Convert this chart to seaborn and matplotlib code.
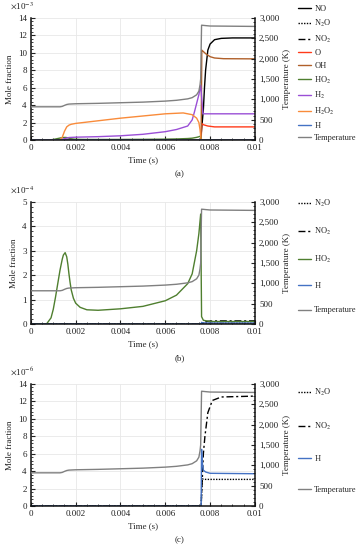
import numpy as np
import pandas as pd
import matplotlib.pyplot as plt
import seaborn as sns
from matplotlib.lines import Line2D
from matplotlib.ticker import MultipleLocator, AutoMinorLocator, FuncFormatter

sns.set_theme(style="white")
plt.rcParams['font.family'] = ['Liberation Serif', 'DejaVu Serif']
plt.rcParams['mathtext.fontset'] = 'stix'

# --- data (time in s, mole fractions absolute, T in K) ---
temp_t = [0, 0.0013, 0.0014, 0.0015, 0.0016, 0.0017, 0.002, 0.003, 0.004, 0.005,
          0.006, 0.0065, 0.007, 0.0072, 0.0074, 0.0075, 0.00755, 0.00758, 0.0076,
          0.00762, 0.0078, 0.008, 0.009, 0.01]
temp_K = [815, 815, 825, 850, 872, 882, 890, 900, 915, 930,
          955, 975, 1010, 1040, 1110, 1200, 1350, 1500, 2200,
          2820, 2810, 2800, 2795, 2790]

no_t = [0, 0.00758, 0.0077, 0.00775, 0.0078, 0.0079, 0.008, 0.0082, 0.0085, 0.009, 0.01]
no_x = np.array([0, 0, 3.5, 6.0, 8.0, 10.3, 11.0, 11.5, 11.65, 11.7, 11.7]) * 1e-3

oh_t = [0, 0.0076, 0.00763, 0.0078, 0.008, 0.0082, 0.0086, 0.01]
oh_x = np.array([0, 0, 10.3, 9.9, 9.55, 9.4, 9.32, 9.3]) * 1e-3

o_t = [0, 0.0076, 0.00763, 0.0077, 0.0079, 0.0082, 0.01]
o_x = np.array([0, 0, 1.9, 1.75, 1.6, 1.5, 1.5]) * 1e-3

h2o2_t = [0, 0.0013, 0.0014, 0.0015, 0.0016, 0.0017, 0.0018, 0.002, 0.003, 0.004,
          0.005, 0.006, 0.0068, 0.0072, 0.0074, 0.0075, 0.00755, 0.0076, 0.01]
h2o2_x = np.array([0, 0, 0.3, 1.0, 1.5, 1.7, 1.8, 1.9, 2.2, 2.5,
                   2.75, 3.0, 3.1, 2.9, 2.5, 2.0, 1.2, 0, 0]) * 1e-3

h2_t = [0, 0.0013, 0.0015, 0.0017, 0.002, 0.003, 0.004, 0.005, 0.006, 0.0065,
        0.007, 0.0072, 0.0073, 0.0074, 0.0075, 0.00758, 0.00768, 0.008, 0.01]
h2_x = np.array([0, 0, 0.15, 0.28, 0.32, 0.38, 0.48, 0.65, 0.95, 1.2,
                 1.6, 2.3, 3.2, 4.2, 5.2, 6.3, 3.0, 3.0, 3.0]) * 1e-3

ho2_t = [0, 0.0007, 0.0009, 0.001, 0.0011, 0.0012, 0.0013, 0.0014, 0.00145, 0.00153,
         0.0016, 0.00165, 0.0017, 0.00175, 0.0018, 0.0019, 0.002, 0.0022, 0.0025, 0.003,
         0.004, 0.005, 0.006, 0.0065, 0.007, 0.0072, 0.0074, 0.0075, 0.00758, 0.00762,
         0.0077, 0.008, 0.01]
ho2_x = np.array([0, 0, 0.25, 0.6, 1.1, 1.65, 2.2, 2.65, 2.82, 2.92,
                  2.75, 2.45, 2.05, 1.7, 1.4, 1.05, 0.85, 0.68, 0.58, 0.56,
                  0.62, 0.72, 0.95, 1.18, 1.65, 2.05, 3.0, 3.7, 4.5, 0.3,
                  0.15, 0.1, 0.1]) * 1e-4

h_t = [0, 0.0076, 0.00762, 0.00765, 0.0077, 0.0078, 0.008, 0.01]
h_x = np.array([0, 0, 6.5, 5.0, 4.1, 3.9, 3.75, 3.7]) * 1e-6

n2o_t = [0, 0.0076, 0.00765, 0.0078, 0.01]
n2o_x = np.array([0, 0, 3.1, 3.05, 3.05]) * 1e-6

no2_t = [0, 0.0076, 0.00765, 0.0077, 0.00777, 0.0079, 0.0081, 0.0085, 0.01]
no2_x = np.array([0, 0, 3.0, 6.0, 8.0, 10.7, 12.1, 12.5, 12.6]) * 1e-6

dashdot = (0, (5, 2, 1.5, 2))
species = {
    'NO':   (no_t, no_x, '#000000', '-', 'NO'),
    'N2O':  (n2o_t, n2o_x, '#000000', (0, (1, 1)), r'N$_2$O'),
    'NO2':  (no2_t, no2_x, '#000000', dashdot, r'NO$_2$'),
    'O':    (o_t, o_x, '#FF3B1A', '-', 'O'),
    'OH':   (oh_t, oh_x, '#B0602A', '-', 'OH'),
    'HO2':  (ho2_t, ho2_x, '#4F7F2F', '-', r'HO$_2$'),
    'H2':   (h2_t, h2_x, '#9A4FD6', '-', r'H$_2$'),
    'H2O2': (h2o2_t, h2o2_x, '#F98B3A', '-', r'H$_2$O$_2$'),
    'H':    (h_t, h_x, '#4472C4', '-', 'H'),
}
temp_color = '#808080'

fs = 6.5
fig = plt.figure(figsize=(3.59, 5.5), dpi=100)

panels = [
    (['NO', 'N2O', 'NO2', 'O', 'OH', 'HO2', 'H2', 'H2O2', 'H'], 1e-3, 14, 2, '-3',
     0.7455, '(a)', 0.866, 0.55),
    (['N2O', 'NO2', 'HO2', 'H'], 1e-4, 5, 1, '-4',
     0.411, '(b)', 0.534, 2.0),
    (['N2O', 'NO2', 'H'], 1e-6, 14, 2, '-6',
     0.08, '(c)', 0.200, 2.75),
]

for names, scale, ymax, ystep, expo, bottom, tag, leg_y, spacing in panels:
    ax = fig.add_axes([0.086, bottom, 0.624, 0.222])
    ax2 = ax.twinx()
    for n in names:
        t, x, c, ls, lab = species[n]
        sns.lineplot(x=np.array(t), y=np.array(x) / scale, ax=ax, color=c,
                     linestyle=ls, linewidth=1.0, legend=False)
    sns.lineplot(x=np.array(temp_t), y=np.array(temp_K), ax=ax2, color=temp_color,
                 linewidth=1.0, legend=False)

    ax.set_xlim(0, 0.01)
    ax.set_ylim(0, ymax)
    ax2.set_ylim(0, 3000)
    ax.xaxis.set_major_locator(MultipleLocator(0.002))
    ax.xaxis.set_minor_locator(AutoMinorLocator(4))
    ax.yaxis.set_major_locator(MultipleLocator(ystep))
    ax.yaxis.set_minor_locator(AutoMinorLocator(5))
    ax2.yaxis.set_major_locator(MultipleLocator(500))
    ax2.yaxis.set_minor_locator(AutoMinorLocator(5))
    ax.xaxis.set_major_formatter(FuncFormatter(lambda v, p: '%g' % round(v, 4)))
    ax2.yaxis.set_major_formatter(FuncFormatter(lambda v, p: f'{int(round(v)):,}'))

    ax.grid(True, which='major', color='#e8e8e8', linewidth=0.6)
    ax.set_axisbelow(True)
    for a in (ax, ax2):
        a.tick_params(which='both', direction='in', labelsize=fs, colors='#222222',
                      pad=3)
        a.tick_params(which='major', length=3, width=0.8)
        a.tick_params(which='minor', length=1.6, width=0.6)
        a.spines['top'].set_visible(False)
    ax.tick_params(axis='x', which='both', bottom=True)
    ax.tick_params(axis='y', which='both', left=True)
    ax2.tick_params(axis='y', which='both', right=True)
    for s in ('left', 'bottom'):
        ax.spines[s].set_color('#111111')
        ax.spines[s].set_linewidth(1.1)
    ax.spines['right'].set_visible(False)
    ax2.spines['left'].set_visible(False)
    ax2.spines['bottom'].set_visible(False)
    ax2.spines['right'].set_color('#111111')
    ax2.spines['right'].set_linewidth(1.1)

    ax.set_xlabel('Time (s)', fontsize=fs, labelpad=3)
    ax.set_ylabel('Mole fraction', fontsize=fs, labelpad=3)
    ax2.set_ylabel('Temperature (K)', fontsize=fs, labelpad=3)
    ax.text(-0.094, 1.1, r'$\times$10$^{' + expo + '}$', transform=ax.transAxes,
            fontsize=fs, ha='left', va='center', color='#222222')
    fig.text(0.5, bottom - 0.062, tag, fontsize=fs, ha='center', va='center')

    handles = [Line2D([], [], color=species[n][2], linestyle=species[n][3],
                      linewidth=1.0, label=species[n][4]) for n in names]
    handles.append(Line2D([], [], color=temp_color, linewidth=1.0, label='Temperature'))
    fig.legend(handles=handles, loc='center left', bbox_to_anchor=(0.815, leg_y),
               frameon=False, fontsize=6.0, handlelength=1.5, handletextpad=0.4,
               labelspacing=spacing, borderpad=0.2)

fig.savefig('out.png', dpi=100)
